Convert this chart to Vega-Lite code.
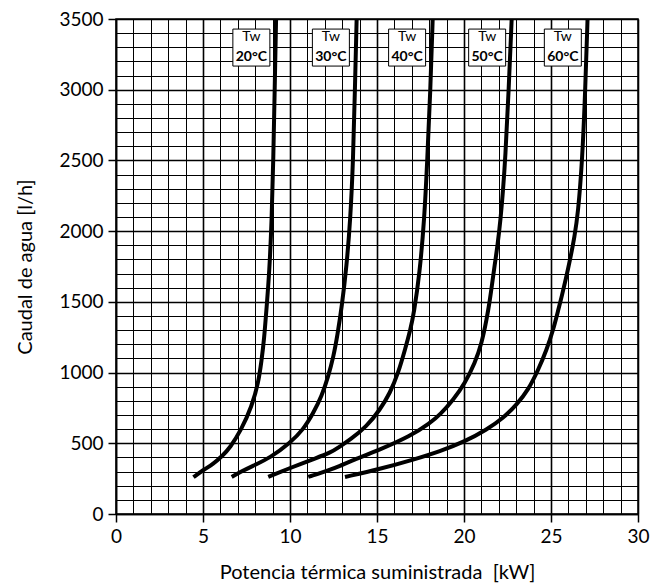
{
  "$schema": "https://vega.github.io/schema/vega-lite/v6.json",
  "width": 522,
  "height": 495,
  "autosize": {"type": "none"},
  "padding": {"left": 116, "top": 19, "right": 14, "bottom": 74},
  "background": "white",
  "config": {
    "view": {"stroke": "black", "strokeWidth": 1.5},
    "font": "Lato",
    "axis": {
      "grid": true,
      "gridColor": "black",
      "gridOpacity": 1,
      "domainColor": "black",
      "domainWidth": 1.5,
      "tickColor": "black",
      "tickWidth": 1.5,
      "tickSize": 8,
      "labelColor": "black",
      "labelFontSize": 19,
      "labelFont": "Lato",
      "labelOverlap": false,
      "labelFlush": false,
      "titleColor": "black",
      "titleFont": "Lato",
      "titleFontSize": 20,
      "titleFontWeight": "normal"
    }
  },
  "datasets": {
    "curves": [
      {"Tw": "20", "P": 4.45, "Q": 260}, {"Tw": "20", "P": 5.0, "Q": 310}, {"Tw": "20", "P": 5.6, "Q": 355}, {"Tw": "20", "P": 6.1, "Q": 410}, {"Tw": "20", "P": 6.55, "Q": 467}, {"Tw": "20", "P": 7.2, "Q": 596}, {"Tw": "20", "P": 7.8, "Q": 760}, {"Tw": "20", "P": 8.18, "Q": 925}, {"Tw": "20", "P": 8.37, "Q": 1090}, {"Tw": "20", "P": 8.51, "Q": 1232}, {"Tw": "20", "P": 8.66, "Q": 1468}, {"Tw": "20", "P": 8.81, "Q": 1704}, {"Tw": "20", "P": 8.95, "Q": 2080}, {"Tw": "20", "P": 9.04, "Q": 2505}, {"Tw": "20", "P": 9.12, "Q": 3000}, {"Tw": "20", "P": 9.2, "Q": 3500},
      {"Tw": "30", "P": 6.65, "Q": 262}, {"Tw": "30", "P": 7.2, "Q": 300}, {"Tw": "30", "P": 7.8, "Q": 337}, {"Tw": "30", "P": 8.85, "Q": 396}, {"Tw": "30", "P": 10.0, "Q": 502}, {"Tw": "30", "P": 10.76, "Q": 596}, {"Tw": "30", "P": 11.34, "Q": 714}, {"Tw": "30", "P": 11.82, "Q": 832}, {"Tw": "30", "P": 12.2, "Q": 973}, {"Tw": "30", "P": 12.5, "Q": 1114}, {"Tw": "30", "P": 12.72, "Q": 1260}, {"Tw": "30", "P": 12.98, "Q": 1468}, {"Tw": "30", "P": 13.25, "Q": 1751}, {"Tw": "30", "P": 13.47, "Q": 2081}, {"Tw": "30", "P": 13.63, "Q": 2505}, {"Tw": "30", "P": 13.73, "Q": 3000}, {"Tw": "30", "P": 13.83, "Q": 3500},
      {"Tw": "40", "P": 8.75, "Q": 262}, {"Tw": "40", "P": 10.0, "Q": 325}, {"Tw": "40", "P": 11.34, "Q": 389}, {"Tw": "40", "P": 12.3, "Q": 431}, {"Tw": "40", "P": 12.87, "Q": 478}, {"Tw": "40", "P": 13.45, "Q": 525}, {"Tw": "40", "P": 14.41, "Q": 619}, {"Tw": "40", "P": 15.17, "Q": 737}, {"Tw": "40", "P": 15.75, "Q": 855}, {"Tw": "40", "P": 16.22, "Q": 997}, {"Tw": "40", "P": 16.61, "Q": 1162}, {"Tw": "40", "P": 16.92, "Q": 1303}, {"Tw": "40", "P": 17.12, "Q": 1420}, {"Tw": "40", "P": 17.45, "Q": 1700}, {"Tw": "40", "P": 17.72, "Q": 2081}, {"Tw": "40", "P": 17.89, "Q": 2505}, {"Tw": "40", "P": 18.07, "Q": 3000}, {"Tw": "40", "P": 18.2, "Q": 3500},
      {"Tw": "50", "P": 11.05, "Q": 262}, {"Tw": "50", "P": 12.3, "Q": 313}, {"Tw": "50", "P": 12.87, "Q": 340}, {"Tw": "50", "P": 13.45, "Q": 372}, {"Tw": "50", "P": 15.17, "Q": 455}, {"Tw": "50", "P": 16.9, "Q": 549}, {"Tw": "50", "P": 18.05, "Q": 643}, {"Tw": "50", "P": 18.62, "Q": 702}, {"Tw": "50", "P": 19.39, "Q": 808}, {"Tw": "50", "P": 20.06, "Q": 926}, {"Tw": "50", "P": 20.63, "Q": 1068}, {"Tw": "50", "P": 21.02, "Q": 1209}, {"Tw": "50", "P": 21.3, "Q": 1374}, {"Tw": "50", "P": 21.49, "Q": 1515}, {"Tw": "50", "P": 21.62, "Q": 1630}, {"Tw": "50", "P": 21.75, "Q": 1750}, {"Tw": "50", "P": 21.93, "Q": 1900}, {"Tw": "50", "P": 22.1, "Q": 2081}, {"Tw": "50", "P": 22.25, "Q": 2300}, {"Tw": "50", "P": 22.37, "Q": 2505}, {"Tw": "50", "P": 22.57, "Q": 3000}, {"Tw": "50", "P": 22.74, "Q": 3500},
      {"Tw": "60", "P": 13.16, "Q": 262}, {"Tw": "60", "P": 15.17, "Q": 318}, {"Tw": "60", "P": 17.09, "Q": 384}, {"Tw": "60", "P": 18.62, "Q": 443}, {"Tw": "60", "P": 20.06, "Q": 513}, {"Tw": "60", "P": 21.3, "Q": 596}, {"Tw": "60", "P": 22.26, "Q": 679}, {"Tw": "60", "P": 23.03, "Q": 773}, {"Tw": "60", "P": 23.7, "Q": 879}, {"Tw": "60", "P": 24.27, "Q": 1020}, {"Tw": "60", "P": 24.75, "Q": 1162}, {"Tw": "60", "P": 25.13, "Q": 1303}, {"Tw": "60", "P": 25.42, "Q": 1444}, {"Tw": "60", "P": 25.62, "Q": 1540}, {"Tw": "60", "P": 25.85, "Q": 1660}, {"Tw": "60", "P": 26.1, "Q": 1800}, {"Tw": "60", "P": 26.35, "Q": 1960}, {"Tw": "60", "P": 26.55, "Q": 2120}, {"Tw": "60", "P": 26.8, "Q": 2505}, {"Tw": "60", "P": 26.97, "Q": 3000}, {"Tw": "60", "P": 27.1, "Q": 3500}
    ],
    "labels": [
      {"t": "20°C", "xc": 7.78},
      {"t": "30°C", "xc": 12.35},
      {"t": "40°C", "xc": 16.73},
      {"t": "50°C", "xc": 21.33},
      {"t": "60°C", "xc": 25.68}
    ]
  },
  "layer": [
    {
      "data": {"name": "curves"},
      "mark": {"type": "line", "color": "black", "strokeWidth": 4, "interpolate": "basis", "clip": true},
      "encoding": {
        "x": {
          "field": "P", "type": "quantitative",
          "scale": {"domain": [0, 30], "nice": false, "zero": false},
          "axis": {
            "values": [0,1,2,3,4,5,6,7,8,9,10,11,12,13,14,15,16,17,18,19,20,21,22,23,24,25,26,27,28,29,30],
            "tickCount": 100,
            "format": "d",
            "gridWidth": {"condition": {"test": "datum.value % 5 === 0", "value": 1.6}, "value": 1},
            "tickOpacity": {"condition": {"test": "datum.value % 5 === 0", "value": 1}, "value": 0},
            "labelExpr": "datum.value % 5 === 0 ? datum.label : ''",
            "labelPadding": 5,
            "title": "Potencia térmica suministrada\u00a0 [kW]",
            "titlePadding": 16
          }
        },
        "y": {
          "field": "Q", "type": "quantitative",
          "scale": {"domain": [0, 3500], "nice": false},
          "axis": {
            "values": [0,100,200,300,400,500,600,700,800,900,1000,1100,1200,1300,1400,1500,1600,1700,1800,1900,2000,2100,2200,2300,2400,2500,2600,2700,2800,2900,3000,3100,3200,3300,3400,3500],
            "tickCount": 100,
            "format": "d",
            "gridWidth": {"condition": {"test": "datum.value % 500 === 0", "value": 1.6}, "value": 1},
            "tickOpacity": {"condition": {"test": "datum.value % 500 === 0", "value": 1}, "value": 0},
            "labelExpr": "datum.value % 500 === 0 ? datum.label : ''",
            "labelPadding": 5,
            "title": "Caudal de agua [l/h]",
            "titlePadding": 23
          }
        },
        "detail": {"field": "Tw", "type": "nominal"}
      }
    },
    {
      "data": {"name": "labels"},
      "mark": {"type": "point", "shape": "square", "size": 1369, "filled": true, "fill": "white", "stroke": "black", "strokeWidth": 1, "opacity": 1},
      "encoding": {
        "x": {"field": "xc", "type": "quantitative"},
        "y": {"datum": 3298}
      }
    },
    {
      "data": {"name": "labels"},
      "mark": {"type": "text", "text": "Tw", "font": "Lato", "fontSize": 14, "color": "black", "baseline": "middle"},
      "encoding": {
        "x": {"field": "xc", "type": "quantitative"},
        "y": {"datum": 3370}
      }
    },
    {
      "data": {"name": "labels"},
      "mark": {"type": "text", "font": "Lato", "fontSize": 14, "fontWeight": "bold", "color": "black", "baseline": "middle"},
      "encoding": {
        "x": {"field": "xc", "type": "quantitative"},
        "y": {"datum": 3234},
        "text": {"field": "t", "type": "nominal"}
      }
    }
  ]
}
